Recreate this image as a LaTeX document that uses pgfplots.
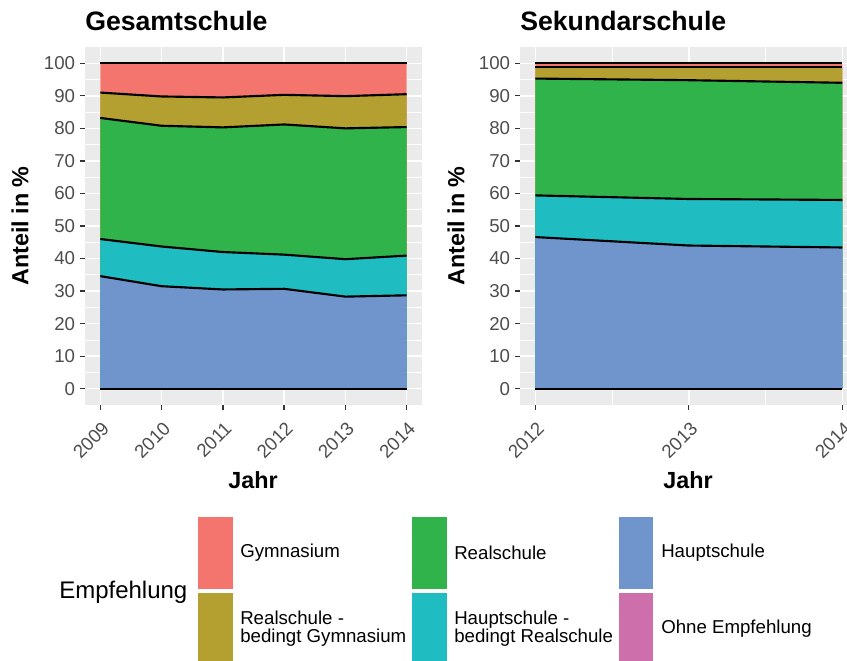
\documentclass[border=0pt]{standalone}
\usepackage{pgfplots}
\usepackage{pgfplotstable}
\pgfplotsset{compat=1.18}
\usepackage{fontspec}
\setmainfont{Liberation Sans}

\definecolor{cGym}{HTML}{F3756D}
\definecolor{cRbg}{HTML}{B49F31}
\definecolor{cReal}{HTML}{31B34B}
\definecolor{cHbr}{HTML}{1FBDC2}
\definecolor{cHaupt}{HTML}{7094CC}
\definecolor{cOhne}{HTML}{CD6FAB}
\definecolor{panelbg}{HTML}{EBEBEB}
\definecolor{ticklab}{HTML}{4D4D4D}
\definecolor{tickcol}{HTML}{333333}

\pgfplotstableread{
year haupt hbr real rbg gym ohne
2009 34.6 11.4 37.2 7.8 9.0 0
2010 31.5 12.2 37.1 9.0 10.2 0
2011 30.5 11.5 38.3 9.2 10.5 0
2012 30.7 10.5 40.0 9.1 9.7 0
2013 28.3 11.5 40.2 9.9 10.1 0
2014 28.7 12.2 39.5 10.1 9.5 0
}\gesamt

\pgfplotstableread{
year haupt hbr real rbg gym ohne
2012 46.6 12.8 35.9 3.5 1.2 0
2013 44.0 14.3 36.5 4.0 1.2 0
2014 43.4 14.6 36.0 4.8 1.2 0
}\sekundar

\pgfplotsset{
  panel/.style={
    scale only axis,
    height=268.5pt,
    ymin=-5, ymax=105,
    ytick={0,10,...,100},
    minor x tick num=1,
    minor y tick num=1,
    grid=both,
    major grid style={white, line width=1.1pt},
    minor grid style={white, line width=0.55pt},
    minor tick length=0pt,
    major tick length=3.75pt,
    tick align=outside,
    xtick pos=lower, ytick pos=lower,
    tick style={color=tickcol, line width=1pt},
    axis line style={draw=none},
    axis background/.style={fill=panelbg},
    tick label style={font=\fontsize{14}{16}\selectfont, color=ticklab,
      /pgf/number format/assume math mode=true},
    x tick label style={/pgf/number format/1000 sep={}, yshift=-6.5pt, xshift=0.5pt, rotate=45, anchor=north east, inner sep=1pt},
    y tick label style={inner sep=2pt, xshift=-1.5pt},
    clip=true,
  },
  bline/.style={black, line width=1.6pt, no markers},
}

\newcommand{\stackareas}[1]{%
  \addplot[fill=cGym, draw=none] table[x=year, y expr=\thisrow{ohne}+\thisrow{haupt}+\thisrow{hbr}+\thisrow{real}+\thisrow{rbg}+\thisrow{gym}] {#1} \closedcycle;
  \addplot[fill=cRbg, draw=none] table[x=year, y expr=\thisrow{ohne}+\thisrow{haupt}+\thisrow{hbr}+\thisrow{real}+\thisrow{rbg}] {#1} \closedcycle;
  \addplot[fill=cReal, draw=none] table[x=year, y expr=\thisrow{ohne}+\thisrow{haupt}+\thisrow{hbr}+\thisrow{real}] {#1} \closedcycle;
  \addplot[fill=cHbr, draw=none] table[x=year, y expr=\thisrow{ohne}+\thisrow{haupt}+\thisrow{hbr}] {#1} \closedcycle;
  \addplot[fill=cHaupt, draw=none] table[x=year, y expr=\thisrow{ohne}+\thisrow{haupt}] {#1} \closedcycle;
  \addplot[bline] table[x=year, y expr=\thisrow{ohne}+\thisrow{haupt}+\thisrow{hbr}+\thisrow{real}+\thisrow{rbg}+\thisrow{gym}] {#1};
  \addplot[bline] table[x=year, y expr=\thisrow{ohne}+\thisrow{haupt}+\thisrow{hbr}+\thisrow{real}+\thisrow{rbg}] {#1};
  \addplot[bline] table[x=year, y expr=\thisrow{ohne}+\thisrow{haupt}+\thisrow{hbr}+\thisrow{real}] {#1};
  \addplot[bline] table[x=year, y expr=\thisrow{ohne}+\thisrow{haupt}+\thisrow{hbr}] {#1};
  \addplot[bline] table[x=year, y expr=\thisrow{ohne}+\thisrow{haupt}] {#1};
  \addplot[bline] table[x=year, y=ohne] {#1};
}

\begin{document}
\begin{tikzpicture}[x=0.75pt, y=0.75pt]
\begin{scope}
\clip (0,0) rectangle (847,661);

\begin{axis}[panel, at={(63.75pt,192pt)}, anchor=south west,
  width=252.75pt, xmin=2008.75, xmax=2014.25, xtick={2009,...,2014}]
\stackareas{\gesamt}
\end{axis}

\begin{axis}[panel, at={(390pt,192pt)}, anchor=south west,
  width=253.2pt, xmin=2011.9, xmax=2014.1, xtick={2012,2013,2014}]
\stackareas{\sekundar}
\end{axis}

% titles
\node[anchor=base west, font=\fontsize{20}{23}\selectfont\bfseries, inner sep=0] at (85,630) {Gesamtschule};
\node[anchor=base west, font=\fontsize{20}{23}\selectfont\bfseries, inner sep=0] at (520,630) {Sekundarschule};
% axis titles
\node[font=\fontsize{17.5}{20}\selectfont\bfseries, rotate=90, inner sep=0] at (20,435) {Anteil in \%};
\node[font=\fontsize{17.5}{20}\selectfont\bfseries, rotate=90, inner sep=0] at (456,435) {Anteil in \%};
\node[font=\fontsize{17.5}{20}\selectfont\bfseries, inner sep=0] at (253,181) {Jahr};
\node[font=\fontsize{17.5}{20}\selectfont\bfseries, inner sep=0] at (688,181) {Jahr};

% legend
\node[anchor=west, font=\fontsize{18}{21}\selectfont, inner sep=0] at (59,69) {Empfehlung};
\fill[cGym]   (198,72) rectangle (233,144);
\fill[cRbg]   (198,-4) rectangle (233,68);
\fill[cReal]  (412,72) rectangle (447,144);
\fill[cHbr]   (412,-4) rectangle (447,68);
\fill[cHaupt] (619,72) rectangle (653,144);
\fill[cOhne]  (619,-4) rectangle (653,68);
\tikzset{leglab/.style={anchor=west, font=\fontsize{14}{13.6}\selectfont, inner sep=0, align=left}}
\node[leglab] at (240,108) {Gymnasium};
\node[leglab] at (240,32) {Realschule -\\bedingt Gymnasium};
\node[leglab] at (454,108) {Realschule};
\node[leglab] at (454,32) {Hauptschule -\\bedingt Realschule};
\node[leglab] at (661,108) {Hauptschule};
\node[leglab] at (661,32) {Ohne Empfehlung};
\end{scope}
\pgfresetboundingbox
\useasboundingbox (0,0) rectangle (847,661);
\end{tikzpicture}
\end{document}
